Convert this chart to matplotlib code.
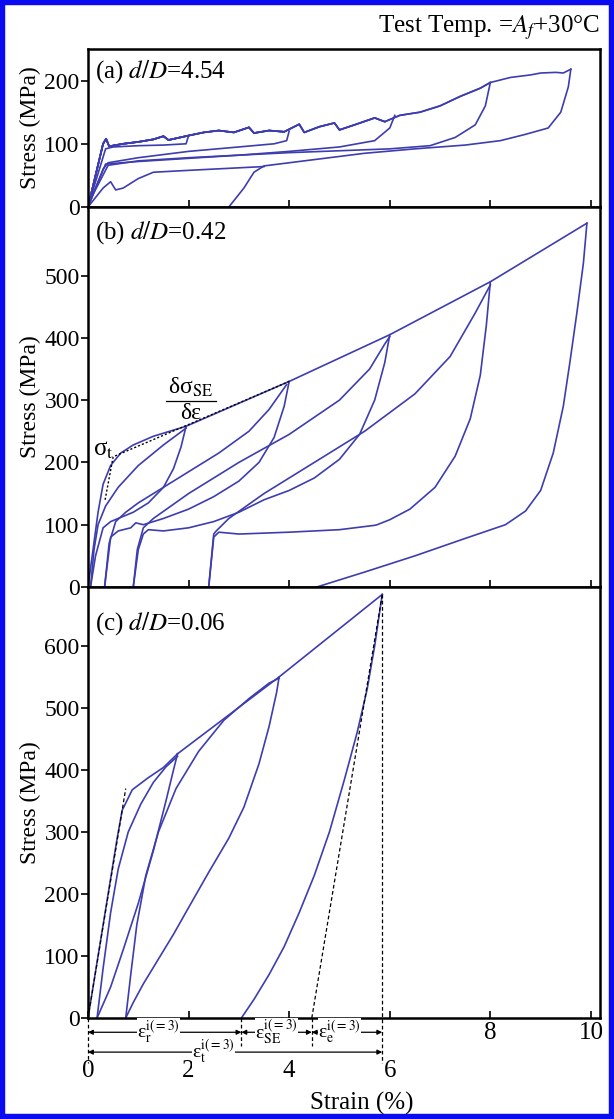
import numpy as np
import matplotlib.pyplot as plt
from matplotlib.patches import Rectangle
from matplotlib.ticker import FixedLocator, FixedFormatter, NullFormatter

plt.rcParams['font.family'] = ['Liberation Serif', 'DejaVu Serif']
plt.rcParams['mathtext.fontset'] = 'stix'

LINE = '#3d3db0'

# ---- (a) d/D = 4.54 : strain (%), stress (MPa) ----
a_envelope = [(0, 0), (0.15, 50), (0.3, 100), (0.36, 108), (0.42, 96), (0.7, 100),
              (1.0, 103), (1.3, 107), (1.5, 112), (1.6, 106), (2.0, 113), (2.3, 118),
              (2.6, 121), (2.9, 118), (3.2, 126), (3.3, 117), (3.6, 121), (3.9, 119),
              (4.2, 131), (4.3, 118), (4.6, 127), (4.9, 133), (5.0, 122), (5.3, 130),
              (5.7, 141), (5.9, 135), (6.2, 145), (6.6, 150), (7.0, 160), (7.4, 175),
              (7.8, 188), (8.0, 197), (8.4, 205), (8.8, 209), (9.0, 212), (9.3, 213),
              (9.45, 212), (9.6, 218)]
a_peaks = [2.0, 4.0, 6.0, 8.0, 9.6]
a_unload1 = [(2.0, 113), (1.95, 100), (1.5, 98), (1.0, 97), (0.5, 95), (0.35, 92),
             (0.15, 40), (0, 0)]
a_unload2 = [(4.0, 120), (3.95, 105), (3.7, 100), (3.0, 95), (2.0, 88), (1.0, 78),
             (0.4, 70), (0.3, 60), (0.1, 20), (0, 0)]
a_unload3 = [(6.1, 145), (6.0, 125), (5.7, 105), (5.0, 95), (4.0, 88), (3.0, 82),
             (2.0, 77), (1.0, 72), (0.35, 68), (0.1, 20), (0, 0)]
a_unload4 = [(8.0, 197), (7.9, 160), (7.7, 130), (7.3, 110), (6.8, 97), (6.0, 92),
             (5.0, 89), (4.0, 86), (3.0, 82), (2.0, 78), (1.0, 73), (0.4, 66),
             (0.1, 20), (0, 0)]
a_unload5 = [(9.6, 218), (9.55, 190), (9.4, 150), (9.15, 125), (8.7, 115), (8.2, 105),
             (7.5, 98), (6.5, 92), (5.5, 85), (4.5, 75), (3.8, 68), (3.5, 65),
             (3.3, 55), (3.1, 30), (2.8, 0)]
a_lower = [(0, 0), (0.3, 30), (0.45, 40), (0.55, 27), (0.7, 30), (1.0, 45), (1.3, 55),
           (2.0, 58), (3.0, 62), (3.5, 64)]

# ---- (b) d/D = 0.42 ----
b_envelope = [(1.95, 258), (4.0, 330), (6.0, 405), (8.0, 490), (9.92, 584)]
b_load1 = [(0, 0), (0.1, 60), (0.2, 120), (0.3, 165), (0.45, 195), (0.65, 215),
           (0.9, 228), (1.3, 242), (1.95, 258)]
b_unload1 = [(1.95, 258), (1.85, 225), (1.7, 190), (1.5, 160), (1.2, 135), (0.9, 120),
             (0.6, 110), (0.45, 105), (0.3, 95), (0.15, 50), (0.05, 0)]
b_load2 = [(0.05, 0), (0.12, 60), (0.2, 100), (0.35, 130), (0.6, 160), (1.0, 195),
           (1.5, 228), (1.95, 255)]
b_unload2 = [(4.0, 330), (3.9, 290), (3.7, 240), (3.4, 200), (3.0, 170), (2.5, 145),
             (2.0, 125), (1.5, 110), (1.1, 100), (0.95, 103), (0.85, 95), (0.6, 90),
             (0.45, 80), (0.33, 0)]
b_load3 = [(0.33, 0), (0.42, 70), (0.55, 105), (0.75, 120), (1.0, 135), (1.5, 160),
           (2.0, 185), (2.6, 215), (3.2, 250), (3.6, 285), (3.95, 325)]
b_unload3 = [(6.0, 405), (5.9, 360), (5.7, 300), (5.4, 245), (5.0, 205), (4.5, 175),
             (4.0, 155), (3.5, 140), (3.0, 120), (2.5, 105), (2.0, 95), (1.5, 90),
             (1.2, 92), (1.1, 85), (1.0, 60), (0.9, 0)]
b_load4 = [(0.9, 0), (0.98, 60), (1.1, 95), (1.3, 110), (2.0, 150), (3.0, 200),
           (4.0, 245), (5.0, 300), (5.6, 350), (5.9, 390), (6.0, 402)]
b_unload4 = [(8.0, 490), (7.92, 420), (7.8, 340), (7.6, 270), (7.3, 210), (6.9, 160),
             (6.4, 125), (6.0, 108), (5.75, 100), (5.7, 99), (5.0, 92), (4.0, 88),
             (3.0, 85), (2.6, 88), (2.5, 80), (2.4, 0)]
b_load5 = [(2.4, 0), (2.5, 85), (2.55, 90), (2.8, 110), (3.5, 150), (4.5, 200),
           (5.5, 250), (6.5, 310), (7.2, 370), (7.7, 440), (8.0, 485)]
b_unload5 = [(9.92, 584), (9.85, 520), (9.72, 440), (9.58, 360), (9.45, 290),
             (9.25, 215), (9.0, 155), (8.7, 122), (8.3, 100), (7.5, 78), (6.5, 50),
             (5.5, 24), (4.55, 0)]
b_tangent = [(0.34, 140), (0.5, 209), (4.0, 330)]

# ---- (c) d/D = 0.06 ----
c_envelope = [(1.78, 426), (3.8, 550), (5.85, 683)]
c_load1 = [(0, 0), (0.15, 75), (0.3, 150), (0.45, 225), (0.58, 290), (0.68, 335),
           (0.88, 368), (1.19, 387), (1.5, 404), (1.78, 426)]
c_unload1 = [(1.78, 426), (1.7, 400), (1.55, 350), (1.3, 270), (1.0, 185), (0.7, 110),
             (0.45, 50), (0.18, 0)]
c_load2 = [(0.18, 0), (0.3, 80), (0.45, 170), (0.6, 240), (0.8, 300), (1.05, 345),
           (1.3, 380), (1.55, 405), (1.78, 422)]
c_unload2 = [(3.8, 550), (3.75, 525), (3.6, 470), (3.4, 410), (3.1, 340), (2.8, 290),
             (2.4, 235), (2.0, 178), (1.7, 135), (1.4, 95), (1.1, 55), (0.9, 25),
             (0.75, 0)]
c_load3 = [(0.75, 0), (0.85, 70), (0.97, 150), (1.15, 230), (1.4, 300), (1.75, 370),
           (2.2, 430), (2.7, 480), (3.2, 515), (3.6, 540), (3.8, 548)]
c_unload3 = [(5.85, 683), (5.7, 600), (5.55, 530), (5.35, 460), (5.1, 385), (4.8, 300),
             (4.5, 230), (4.2, 170), (3.9, 115), (3.6, 70), (3.3, 30), (3.05, 0)]
c_elastic_start = [(0, 0), (0.75, 370)]
c_elastic_end = [(4.45, 0), (5.85, 683)]
c_marks = [0, 3.05, 4.45, 5.85]   # residual / SE / elastic split of cycle 3

fig = plt.figure(figsize=(6.14, 11.19), dpi=100)
left, width = 88 / 614, 512 / 614
ax_a = fig.add_axes([left, 1 - 207 / 1119, width, 158 / 1119])
ax_b = fig.add_axes([left, 1 - 587 / 1119, width, 380 / 1119])
ax_c = fig.add_axes([left, 1 - 1018 / 1119, width, 431 / 1119])


def draw(ax, pts, **kw):
    p = np.asarray(pts, dtype=float)
    ax.plot(p[:, 0], p[:, 1], color=LINE, lw=1.2, **kw)


# (a)
env = np.asarray(a_envelope)
for pk in a_peaks:
    seg = env[env[:, 0] <= pk + 1e-9]
    draw(ax_a, seg)
for u in (a_unload1, a_unload2, a_unload3, a_unload4, a_unload5, a_lower):
    draw(ax_a, u)

# (b)
draw(ax_b, b_envelope)
for c in (b_load1, b_unload1, b_load2, b_unload2, b_load3, b_unload3,
          b_load4, b_unload4, b_load5, b_unload5):
    draw(ax_b, c)
t = np.asarray(b_tangent)
ax_b.plot(t[:, 0], t[:, 1], color='k', lw=1.0, ls=(0, (1.5, 1.5)))
ax_b.text(0.1, 220, 'σ$_\\mathrm{t}$', fontsize=18, ha='left', va='center')
# slope label drawn as a stacked fraction
ax_b.text(2.05, 302, 'δσ$_\\mathrm{SE}$', fontsize=17, ha='center', va='bottom')
ax_b.text(2.05, 296, 'δε', fontsize=17, ha='center', va='top')
ax_b.plot([1.55, 2.55], [299, 299], color='k', lw=0.9)

# (c)
draw(ax_c, c_envelope)
for c in (c_load1, c_unload1, c_load2, c_unload2, c_load3, c_unload3):
    draw(ax_c, c)
for d in (c_elastic_start, c_elastic_end):
    d = np.asarray(d)
    ax_c.plot(d[:, 0], d[:, 1], color='k', lw=0.9, ls=(0, (3, 2)))
ax_c.plot([c_marks[3]] * 2, [c_envelope[-1][1], -72], color='k', lw=0.9,
          ls=(0, (3, 2)), clip_on=False)
for xm, yb in zip(c_marks[:3], [-72, -45, -45]):
    ax_c.plot([xm, xm], [0, yb], color='k', lw=0.9, ls=(0, (3, 2)), clip_on=False)


def span(ax, x0, x1, y, label, xl):
    ax.annotate('', xy=(x1, y), xytext=(x0, y), annotation_clip=False,
                arrowprops=dict(arrowstyle='<|-|>', color='k', lw=0.9,
                                mutation_scale=7, shrinkA=0, shrinkB=0))
    ax.text(xl, y, label, ha='center', va='center', fontsize=14,
            bbox=dict(fc='white', ec='none', pad=0.2), clip_on=False)


span(ax_c, c_marks[0], c_marks[1], -23, 'ε$_\\mathrm{r}^\\mathrm{i(=3)}$', 1.4)
span(ax_c, c_marks[1], c_marks[2], -23, 'ε$_\\mathrm{SE}^\\mathrm{i(=3)}$', 3.75)
span(ax_c, c_marks[2], c_marks[3], -23, 'ε$_\\mathrm{e}^\\mathrm{i(=3)}$', 5.0)
span(ax_c, c_marks[0], c_marks[3], -55, 'ε$_\\mathrm{t}^\\mathrm{i(=3)}$', 2.5)

# axes styling
limits = {ax_a: (250, [0, 100, 200]), ax_b: (610, [0, 100, 200, 300, 400, 500]),
          ax_c: (695, [0, 100, 200, 300, 400, 500, 600])}
for ax, (ytop, yt) in limits.items():
    ax.set_xlim(0, 10.18)
    ax.set_ylim(0, ytop)
    ax.set_yticks(yt)
    for s in ax.spines.values():
        s.set_linewidth(1.8)
    ax.tick_params(axis='y', direction='out', length=5, width=1.2, labelsize=17, pad=1)
    ax.tick_params(axis='x', which='both', direction='in', length=5, width=1.2,
                   labelsize=18)
    ax.set_ylabel('Stress (MPa)', fontsize=17)
    ax.yaxis.set_label_coords(-0.092, 0.5)

for ax in (ax_a, ax_b):
    ax.set_xticks([2, 4, 6, 8, 10])
    ax.xaxis.set_major_formatter(NullFormatter())

ax_c.xaxis.set_major_locator(FixedLocator([0, 2, 4, 6]))
ax_c.xaxis.set_major_formatter(FixedFormatter(['0', '2', '4', '6']))
ax_c.xaxis.set_minor_locator(FixedLocator([8, 10]))
ax_c.xaxis.set_minor_formatter(FixedFormatter(['8', '10']))
ax_c.tick_params(axis='x', which='major', pad=30)
ax_c.tick_params(axis='x', which='minor', pad=3)

ax_a.text(0.014, 0.86, r'(a) $d/D$=4.54', transform=ax_a.transAxes, fontsize=18, va='center')
ax_b.text(0.014, 0.934, r'(b) $d/D$=0.42', transform=ax_b.transAxes, fontsize=18, va='center')
ax_c.text(0.014, 0.916, r'(c) $d/D$=0.06', transform=ax_c.transAxes, fontsize=18, va='center')

fig.text(600 / 614, 1 - 28 / 1119, r'Test Temp. =$A_f$+30°C', ha='right', va='center',
         fontsize=18)
fig.text(362 / 614, 1 - 1103 / 1119, 'Strain (%)', ha='center', va='center', fontsize=18)

fig.patches.append(Rectangle((0, 0), 1, 1, transform=fig.transFigure, fill=False,
                             edgecolor='#0b0bf2', linewidth=7.5))

fig.savefig('out.png', dpi=100)
